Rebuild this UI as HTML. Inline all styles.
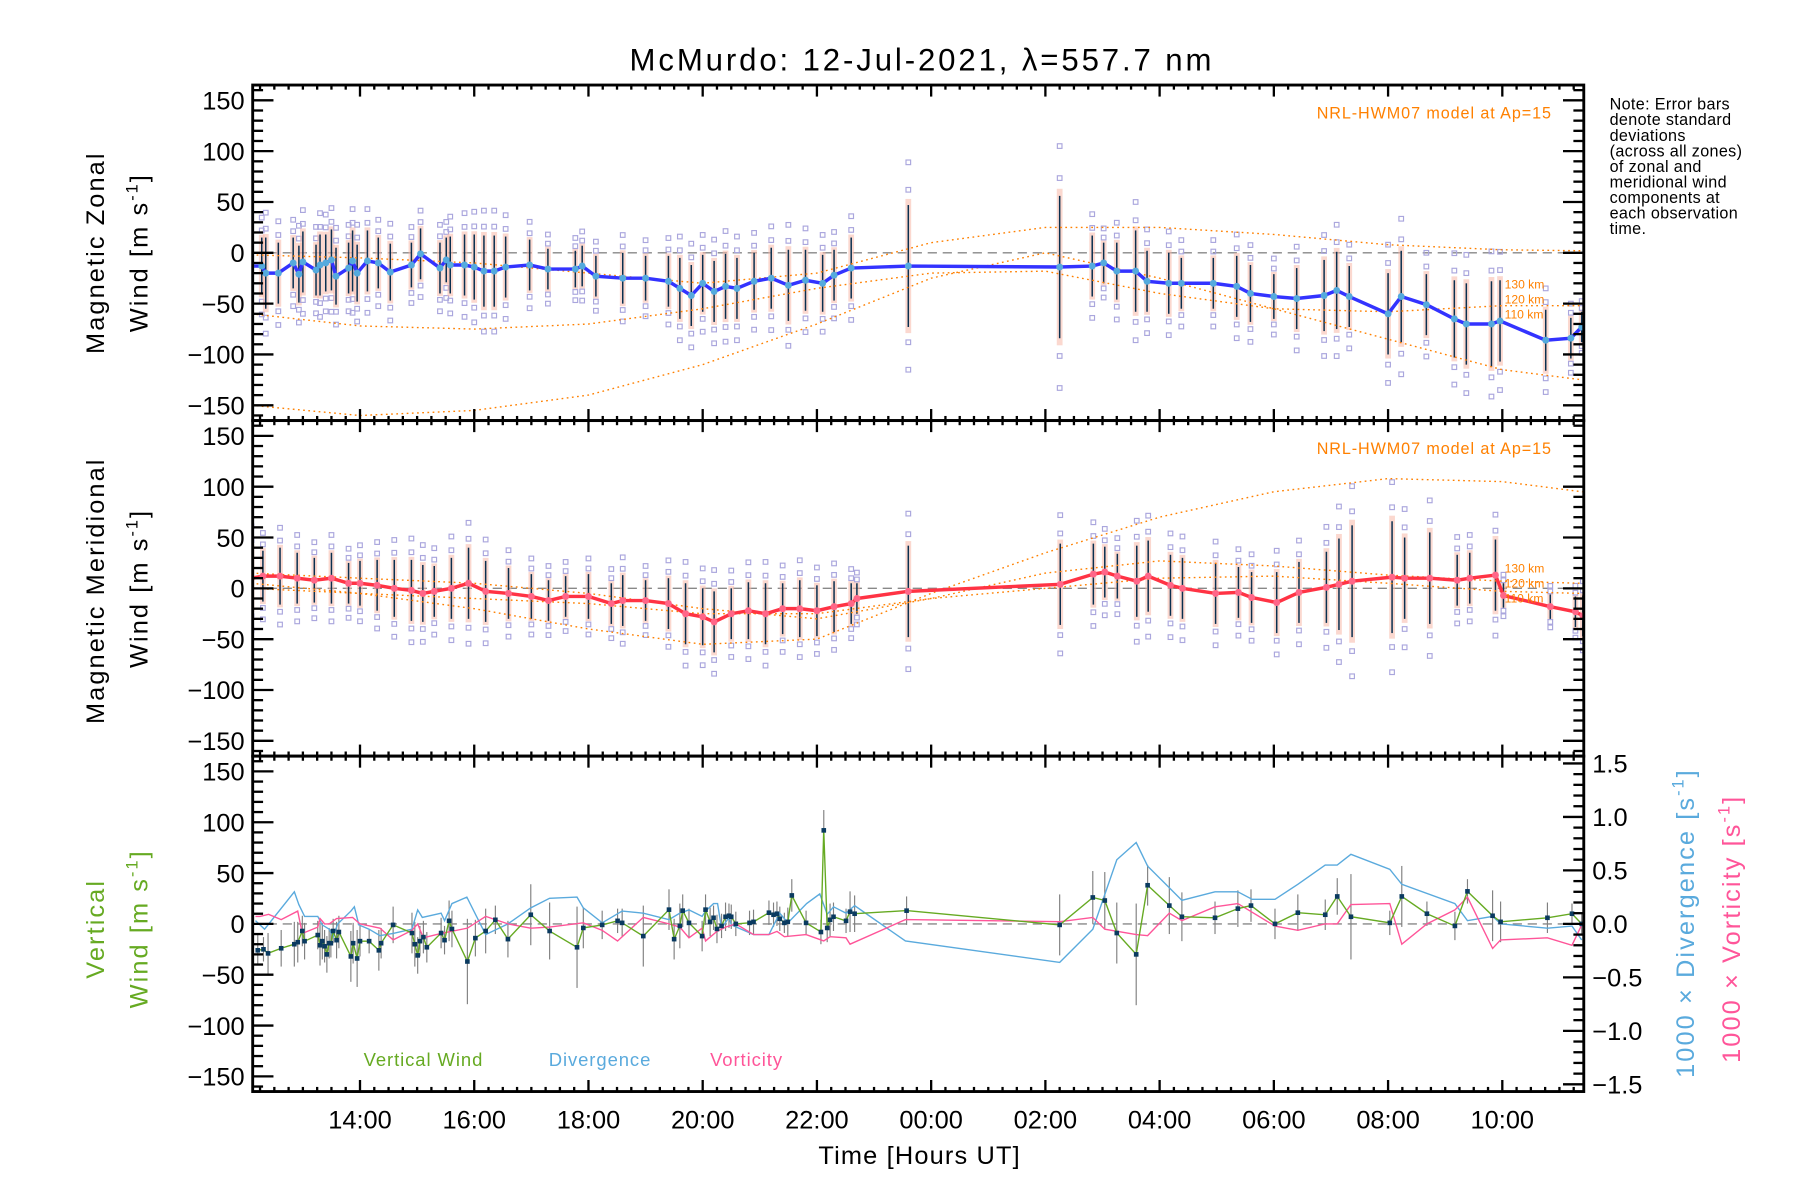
<!DOCTYPE html>
<html><head><meta charset="utf-8"><style>
html,body{margin:0;padding:0;background:#fff}
svg{display:block;font-family:"Liberation Sans",sans-serif}
</style></head><body>
<svg id="chart" width="1800" height="1200" viewBox="0 0 1560 1040" xmlns="http://www.w3.org/2000/svg">
<defs>
<clipPath id="c1"><rect x="219" y="73.7" width="1153.6" height="290.8"/></clipPath>
<clipPath id="c2"><rect x="219" y="364.5" width="1153.6" height="290.8"/></clipPath>
<clipPath id="c3"><rect x="219" y="655.3" width="1153.6" height="290.7"/></clipPath>
</defs>
<text x="799" y="61" font-size="27" letter-spacing="2.5" text-anchor="middle">McMurdo: 12-Jul-2021, λ=557.7 nm</text>
<g id="layer"></g>
</svg>
<script>
// ---- data ----
const xTickHours=[14,16,18,20,22,24,26,28,30,32,34];
const xTickLabels=["14:00","16:00","18:00","20:00","22:00","00:00","02:00","04:00","06:00","08:00","10:00"];
const yTickVals=[150,100,50,0,-50,-100,-150];
const yTickLabels=["150","100","50","0","\u221250","\u2212100","\u2212150"];
const rTickVals=[1.5,1.0,0.5,0.0,-0.5,-1.0,-1.5];
const rTickLabels=["1.5","1.0","0.5","0.0","\u22120.5","\u22121.0","\u22121.5"];

const zT=[12.09,12.28,12.35,12.57,12.83,12.93,13.0,13.23,13.3,13.4,13.5,13.58,13.8,13.87,13.95,14.13,14.32,14.53,14.9,15.06,15.4,15.51,15.58,15.83,16.0,16.17,16.35,16.55,16.97,17.29,17.77,17.89,18.13,18.6,19.0,19.4,19.6,19.8,20.0,20.2,20.4,20.6,20.9,21.2,21.5,21.8,22.1,22.3,22.6,23.6,26.25,26.82,27.02,27.25,27.58,27.78,28.16,28.38,28.94,29.35,29.59,30.0,30.4,30.88,31.1,31.32,32.0,32.23,32.67,33.16,33.37,33.81,33.96,34.76,35.2,35.39];
const zV=[-13,-13,-20,-20,-10,-21,-9,-17,-12,-10,-7,-23,-15,-8,-20,-8,-10,-19,-12,-1,-15,-7,-12,-12,-14,-18,-18,-14,-12,-16,-16,-13,-23,-25,-25,-28,-35,-42,-30,-38,-33,-35,-28,-25,-32,-27,-30,-22,-15,-13,-14,-13,-10,-18,-18,-28,-30,-30,-30,-33,-40,-43,-45,-42,-37,-43,-60,-43,-51,-65,-70,-70,-67,-86,-84,-73];
const zE=[30,28,35,30,25,28,30,25,30,28,30,28,25,30,28,30,25,28,22,25,25,22,28,30,32,35,35,30,25,20,18,20,20,25,22,25,30,30,28,30,32,30,28,30,35,30,28,25,30,60,70,30,20,28,40,30,30,25,25,30,28,22,30,35,38,30,40,45,30,38,40,42,40,30,20,15];

const mT=[12.1,12.3,12.6,12.9,13.2,13.5,13.8,14.0,14.3,14.6,14.9,15.1,15.3,15.6,15.9,16.2,16.6,17.0,17.3,17.6,18.0,18.4,18.6,19.0,19.4,19.7,20.0,20.2,20.5,20.8,21.1,21.4,21.7,22.0,22.3,22.6,22.7,23.6,26.26,26.84,27.04,27.26,27.6,27.8,28.19,28.4,28.98,29.38,29.61,30.05,30.44,30.92,31.14,31.37,32.07,32.29,32.73,33.21,33.43,33.88,34.02,34.84,35.28,35.41];
const mV=[10,12,12,10,8,10,5,5,3,0,-2,-5,-3,0,5,-3,-5,-8,-12,-8,-8,-15,-12,-12,-15,-25,-28,-33,-25,-22,-25,-20,-20,-22,-18,-15,-10,-3,4,14,16,12,7,12,3,0,-5,-4,-9,-14,-4,1,4,7,11,10,10,8,10,13,-7,-18,-23,-27];
const mE=[30,25,28,25,22,25,20,22,25,28,30,28,25,30,35,30,25,22,20,20,22,20,25,20,25,30,28,30,25,28,30,25,28,25,25,20,15,45,40,30,25,22,35,35,30,30,30,25,25,30,30,35,45,55,55,40,45,25,25,35,12,12,15,20];

const modelT=[12.1,14,16,18,20,22,24,26,28,30,32,34,35.4];
const zModel130=[-2,-5,-10,-20,-30,-20,10,25,25,18,8,3,2];
const zModel120=[-60,-72,-75,-70,-55,-35,-20,-18,-40,-55,-58,-52,-52];
const zModel110=[-150,-160,-155,-140,-110,-70,-25,0,-25,-55,-85,-115,-125];
const mModel130=[5,-5,-20,-40,-55,-50,-5,35,70,95,108,105,95];
const mModel120=[15,10,5,-5,-20,-30,-10,15,27,22,13,7,5];
const mModel110=[0,-5,-10,-15,-25,-25,-10,0,10,12,5,-3,-5];

const vT=[12.21,12.31,12.39,12.62,12.85,12.91,12.99,13.03,13.26,13.30,13.34,13.38,13.42,13.46,13.49,13.53,13.59,13.63,13.84,13.88,13.95,14.0,14.16,14.33,14.37,14.58,14.91,14.96,15.01,15.05,15.11,15.17,15.42,15.48,15.56,15.61,15.88,16.02,16.20,16.37,16.59,16.99,17.32,17.80,17.91,18.24,18.51,18.59,18.96,19.41,19.50,19.60,19.65,19.76,19.99,20.05,20.13,20.19,20.25,20.33,20.40,20.46,20.50,20.58,20.82,20.89,21.16,21.24,21.30,21.35,21.43,21.49,21.56,21.81,22.07,22.12,22.18,22.23,22.29,22.51,22.58,22.66,23.57,26.25,26.83,27.04,27.25,27.59,27.79,28.17,28.39,28.97,29.37,29.60,30.02,30.42,30.90,31.11,31.35,32.03,32.24,32.68,33.17,33.39,33.83,33.97,34.79,35.22,35.39];
const vV=[-26,-25,-29,-24,-20,-18,-7,-17,-11,-21,-17,-22,-30,-19,-19,-7,-16,-8,-32,-19,-34,-17,-17,-26,-19,-1,-9,-20,-31,-17,-13,-23,-9,-16,3,-5,-37,-14,-7,4,-15,9,-7,-23,-4,-1,3,1,-12,14,-15,-2,13,1,-12,14,2,6,-5,-2,7,8,7,0,1,2,11,9,10,5,1,2,28,1,-8,92,-4,4,7,3,12,10,13,-1,26,23,-9,-30,38,18,7,6,15,18,0,11,9,27,7,1,27,10,-2,32,8,2,6,10,0];
const vE=[15,12,20,18,22,20,15,18,14,20,18,16,18,15,14,12,18,16,25,20,28,15,12,20,15,18,20,22,18,15,16,15,15,14,20,18,42,18,22,14,18,30,28,40,20,14,12,14,30,20,20,22,16,14,15,15,14,12,14,12,14,12,12,12,12,12,12,12,12,12,10,14,16,12,12,20,14,16,14,12,20,18,14,30,26,28,30,50,20,28,24,16,18,16,15,18,15,18,42,12,30,12,14,12,25,20,15,10,10];

const dT=[12.17,12.33,12.85,12.93,13.03,13.26,13.34,13.46,13.53,13.61,13.84,13.90,13.98,14.16,14.35,14.58,14.91,15.01,15.09,15.42,15.48,15.61,15.87,16.20,16.59,16.99,17.32,17.80,17.91,18.24,18.59,18.96,19.41,19.60,19.76,19.99,20.05,20.19,20.26,20.33,20.46,20.50,20.89,21.16,21.35,21.49,21.82,22.05,22.18,22.29,22.51,22.66,23.55,26.25,26.83,27.25,27.59,27.79,28.39,28.97,29.37,29.62,30.02,30.42,30.90,31.11,31.35,32.03,32.24,33.17,33.39,33.83,33.97,34.79,35.22,35.39];
const dV=[0.03,-0.05,0.30,0.18,0.07,0.07,-0.01,-0.05,-0.12,0,0.12,0.16,-0.01,-0.05,-0.11,-0.09,-0.05,0.13,0.06,0.10,0.03,0.19,0.25,-0.10,0,0.15,0.24,0.25,0.15,0.01,0.12,0.10,0.04,0.10,0.13,0.07,0.12,0.19,0.19,-0.04,0.06,-0.01,-0.10,-0.10,0.10,0.01,0.19,0.28,0.09,0.16,0.10,0.17,-0.16,-0.36,-0.05,0.60,0.76,0.54,0.22,0.30,0.30,0.23,0.23,0.37,0.55,0.55,0.65,0.51,0.37,0.19,0.03,0.07,0,-0.04,-0.02,-0.15];

const rT=[12.17,12.25,12.40,12.62,12.91,12.99,13.26,13.30,13.38,13.46,13.59,13.87,14.0,14.35,14.58,14.91,15.01,15.11,15.42,15.88,16.20,16.59,16.99,17.32,17.91,18.24,18.51,18.96,19.41,19.60,19.76,19.99,20.05,20.25,20.40,20.58,20.89,21.16,21.30,21.43,21.81,22.12,22.23,22.51,22.58,23.55,26.25,26.83,27.04,27.59,27.79,28.17,28.39,28.97,29.37,30.02,30.42,30.90,31.11,31.35,32.03,32.24,32.68,33.17,33.39,33.83,33.97,34.79,35.22,35.39];
const rV=[0.07,0.07,0.09,0.04,0.12,-0.09,-0.03,0.05,0,0,0.05,0.06,0,-0.04,-0.15,-0.06,0,-0.13,-0.09,-0.04,0.07,0,-0.04,-0.03,0.01,-0.06,-0.16,0.06,0,-0.03,-0.13,-0.04,-0.16,-0.07,-0.03,0,-0.10,-0.10,-0.07,-0.12,-0.10,-0.16,-0.12,-0.13,-0.19,0.04,0.02,0.06,-0.05,-0.10,-0.11,0.10,0.03,0.16,0.19,-0.02,-0.06,0,0,0.18,0.19,-0.19,0,0.13,0.25,-0.23,-0.15,-0.13,-0.20,-0.01];

// ---- axes ----
const L=219,R=1372.6;
const panels=[{top:73.7,bot:364.5,zero:219.1},{top:364.5,bot:655.3,zero:509.9},{top:655.3,bot:946,zero:800.7}];
function X(h){return 312+(h-14)*49.5;}
function Yp(p,v){return panels[p].zero-v*0.881;}
function Yr(r){return 800.7-r*92.7;}
const NS="http://www.w3.org/2000/svg";
const layer=document.getElementById('layer');
function mk(tag,attrs,parent){const e=document.createElementNS(NS,tag);for(const k in attrs)e.setAttribute(k,attrs[k]);(parent||layer).appendChild(e);return e;}
function poly(xs,ys,p,f){return xs.map((t,i)=>X(t).toFixed(1)+','+f(p,ys[i]).toFixed(1)).join(' ');}

function drawWindPanel(p,T,V,E,lineCol,markCol,models,name){
  const g=mk('g',{'clip-path':'url(#c'+(p+1)+')'});
  
  
  const z=mk('line',{x1:L,x2:R,y1:Yp(p,0),y2:Yp(p,0),stroke:'#888','stroke-dasharray':'8,5','stroke-width':1.2},g);
  
  
  T.forEach((t,i)=>{
    const x=X(t);
    const band=mk('rect',{x:x-2.5,y:Yp(p,V[i]+E[i]*1.1),width:5,height:E[i]*2.2*0.881,fill:'#f8b8a8',opacity:0.55},g);
    
    
    [-1.7,-1.25,1.25,1.7].forEach(k=>{
      const s=mk('rect',{x:x-2,y:Yp(p,V[i]+k*E[i])-2,width:4,height:4,fill:'none',stroke:'#aaa6dd','stroke-width':1},g);
      
      
    });
    const eb=mk('line',{x1:x,x2:x,y1:Yp(p,V[i]-E[i]),y2:Yp(p,V[i]+E[i]),stroke:'#0a3050','stroke-width':1.3},g);
    
    
  });
  models.forEach((m,j)=>{
    const ml=mk('polyline',{points:poly(modelT,m,p,Yp),fill:'none',stroke:'#ff8000','stroke-width':1.2,'stroke-dasharray':'1.5,3'},g);
    
    
  });
  const ln=mk('polyline',{points:poly(T,V,p,Yp),fill:'none',stroke:lineCol,'stroke-width':3},g);
  
  
  T.forEach((t,i)=>{
    const c=mk('circle',{cx:X(t),cy:Yp(p,V[i]),r:3,fill:markCol},g);
    
    
  });
  const lg=mk('text',{x:1345,y:panels[p].top+29,'font-size':14,'letter-spacing':0.8,fill:'#ff8000','text-anchor':'end'});
  lg.textContent='NRL-HWM07 model at Ap=15';
  
  
  const ay=p===0?[250,263,276]:[496,509,522];
  ['130 km','120 km','110 km'].forEach((s,j)=>{
    const t=mk('text',{x:1304,y:ay[j],'font-size':10.5,fill:'#ff8000'});
    t.textContent=s;
    
    
  });
}
drawWindPanel(0,zT,zV,zE,'#3333ff','#55aadd',[zModel130,zModel120,zModel110],'zonal');
drawWindPanel(1,mT,mV,mE,'#ff3344','#ff6688',[mModel130,mModel120,mModel110],'meridional');

(function(){
  const g=mk('g',{'clip-path':'url(#c3)'});
  
  
  const z=mk('line',{x1:L,x2:R,y1:Yp(2,0),y2:Yp(2,0),stroke:'#888','stroke-dasharray':'8,5','stroke-width':1.2},g);
  
  
  vT.forEach((t,i)=>{
    const eb=mk('line',{x1:X(t),x2:X(t),y1:Yp(2,vV[i]-vE[i]),y2:Yp(2,vV[i]+vE[i]),stroke:'#808080','stroke-width':1},g);
    
    
  });
  const dl=mk('polyline',{points:poly(dT,dV,0,(p,v)=>Yr(v)),fill:'none',stroke:'#5aaadd','stroke-width':1.2},g);
  
  
  const rl=mk('polyline',{points:poly(rT,rV,0,(p,v)=>Yr(v)),fill:'none',stroke:'#ff5599','stroke-width':1.2},g);
  
  
  const vl=mk('polyline',{points:poly(vT,vV,2,Yp),fill:'none',stroke:'#66aa22','stroke-width':1.2},g);
  
  
  vT.forEach((t,i)=>{
    const s=mk('rect',{x:X(t)-2,y:Yp(2,vV[i])-2,width:4,height:4,fill:'#0a3a60'},g);
    
    
  });
  [['Vertical Wind',367,'#66aa22','legend-vertical-wind'],['Divergence',520,'#5aaadd','legend-divergence'],['Vorticity',647,'#ff5599','legend-vorticity']].forEach(a=>{
    const t=mk('text',{x:a[1],y:924,'font-size':16,'letter-spacing':0.8,fill:a[2],'text-anchor':'middle'});
    t.textContent=a[0];
    
    
  });
})();

panels.forEach((pn,p)=>{
  const fr=mk('rect',{x:L,y:pn.top,width:R-L,height:pn.bot-pn.top,fill:'none',stroke:'#000','stroke-width':2.5});
  
  
  for(let v=-160;v<=160;v+=10){
    const y=Yp(p,v); if(y<pn.top+1||y>pn.bot-1)continue;
    const len=(v%50===0)?18:9;
    const t=mk('line',{x1:L,x2:L+len,y1:y,y2:y,stroke:'#000','stroke-width':2});
    
    
    if(p<2){
      const t2=mk('line',{x1:R-len,x2:R,y1:y,y2:y,stroke:'#000','stroke-width':2});
      
      
    }
  }
  yTickVals.forEach((v,i)=>{
    const t=mk('text',{x:212,y:Yp(p,v)+8,'font-size':22,'text-anchor':'end'});
    t.textContent=yTickLabels[i];
    
    
  });
  for(let h=12.25;h<35.41;h+=0.25){
    const major=Math.abs(h-Math.round(h))<0.01&&Math.round(h)%2===0;
    const len=major?10:4;
    [[pn.top,pn.top+len],[pn.bot-len,pn.bot]].forEach(yy=>{
      const t=mk('line',{x1:X(h),x2:X(h),y1:yy[0],y2:yy[1],stroke:'#000','stroke-width':2});
      
      
    });
  }
});
for(let r=-1.5;r<=1.501;r+=0.1){
  const major=Math.abs(r*2-Math.round(r*2))<0.01;
  const len=major?18:9;
  const t=mk('line',{x1:R-len,x2:R,y1:Yr(r),y2:Yr(r),stroke:'#000','stroke-width':2});
  
  
}
rTickVals.forEach((v,i)=>{
  const t=mk('text',{x:1380,y:Yr(v)+8,'font-size':22});
  t.textContent=rTickLabels[i];
  
  
});
xTickHours.forEach((h,i)=>{
  const t=mk('text',{x:X(h),y:978,'font-size':22,'text-anchor':'middle'});
  t.textContent=xTickLabels[i];
  
  
});
const xt=mk('text',{x:797,y:1009,'font-size':22,'letter-spacing':1,'text-anchor':'middle'});
xt.textContent='Time [Hours UT]';



function rot(txt,x,y,col,name,sup){
  const t=mk('text',{x:0,y:0,'font-size':22,'letter-spacing':1.8,'text-anchor':'middle',fill:col,transform:'translate('+x+','+y+') rotate(-90)'});
  t.textContent=txt;
  if(sup){const ts=mk('tspan',{dy:-9,'font-size':14},t);ts.textContent='-1';const t3=mk('tspan',{dy:9},t);t3.textContent=']';}
  
  
}
rot('Magnetic Zonal',90,219,'#000','y-axis-title-zonal');
rot('Wind [m s',128,219,'#000','y-axis-units-zonal',true);
rot('Magnetic Meridional',90,512,'#000','y-axis-title-meridional');
rot('Wind [m s',128,510,'#000','y-axis-units-meridional',true);
rot('Vertical',90,805,'#66aa22','y-axis-title-vertical');
rot('Wind [m s',128,805,'#66aa22','y-axis-units-vertical',true);
rot('1000 \u00d7 Divergence [s',1468,800,'#5aaadd','right-axis-title-divergence',true);
rot('1000 \u00d7 Vorticity [s',1508,805,'#ff5599','right-axis-title-vorticity',true);

const note=['Note: Error bars','denote standard','deviations','(across all zones)','of zonal and','meridional wind','components at','each observation','time.'];
note.forEach((s,i)=>{
  const t=mk('text',{x:1395,y:95+i*13.5,'font-size':14,'letter-spacing':0.3});
  t.textContent=s;
  
  
});
</script>
</body></html>
